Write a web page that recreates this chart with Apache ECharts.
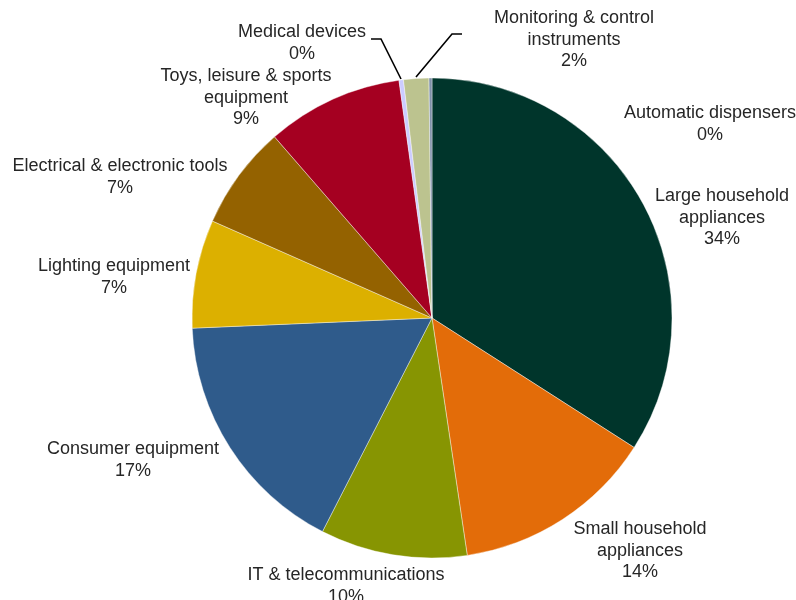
<!DOCTYPE html>
<html>
<head>
<meta charset="utf-8">
<script src="https://cdn.jsdelivr.net/npm/echarts@6/dist/echarts.min.js"></script>
<style>
  html, body { margin: 0; padding: 0; background: #fff; }
  #chart { width: 796px; height: 600px; }
</style>
</head>
<body>
<div id="chart"></div>
<script>
// WEEE categories and their share of the total (%), clockwise from 12 o'clock
var categories = [
  'Large household\nappliances',
  'Small household\nappliances',
  'IT & telecommunications',
  'Consumer equipment',
  'Lighting equipment',
  'Electrical & electronic tools',
  'Toys, leisure & sports\nequipment',
  'Medical devices',
  'Monitoring & control\ninstruments',
  'Automatic dispensers'
];
var shares = [34.1, 13.6, 9.9, 16.8, 7.3, 7.0, 9.2, 0.3, 1.7, 0.2];
var colors = ['#00352b', '#e36c09', '#879502', '#2f5b8b', '#dcb000',
              '#946200', '#a50021', '#ccccff', '#bcc38f', '#7f90a8'];

// Label anchor points (label centre) and optional leader lines
var labelSpots = [
  { x: 722, y: 218 },
  { x: 640, y: 551 },
  { x: 346, y: 586 },
  { x: 133, y: 460 },
  { x: 114, y: 277 },
  { x: 120, y: 177 },
  { x: 246, y: 98 },
  { x: 302, y: 43, line: [[401, 79], [381, 39], [371, 39]] },
  { x: 574, y: 40, line: [[416, 77], [452, 34], [462, 34]] },
  { x: 710, y: 124 }
];

var chart = echarts.init(document.getElementById('chart'), null, { renderer: 'canvas' });

var data = categories.map(function (name, i) {
  return { name: name, value: shares[i], itemStyle: { color: colors[i] } };
});

chart.setOption({
  animation: false,
  backgroundColor: '#ffffff',
  series: [{
    type: 'pie',
    center: [432, 318],
    radius: [0, 240],
    startAngle: 90,
    clockwise: true,
    data: data,
    itemStyle: { borderColor: '#ffffff', borderWidth: 0.4 },
    label: {
      show: true,
      position: 'outside',
      alignTo: 'none',
      overflow: 'none',
      formatter: function (p) { return p.name + '\n' + Math.round(p.percent) + '%'; },
      fontFamily: 'Liberation Sans, Arial, sans-serif',
      fontSize: 18,
      lineHeight: 21.5,
      color: '#262626',
      align: 'center'
    },
    labelLine: { show: true, lineStyle: { color: '#000', width: 1.6 } },
    labelLayout: function (params) {
      var s = labelSpots[params.dataIndex];
      var out = { x: s.x, y: s.y, align: 'center', verticalAlign: 'middle', hideOverlap: false, moveOverlap: false };
      out.labelLinePoints = s.line ? s.line : [[s.x, s.y], [s.x, s.y], [s.x, s.y]];
      return out;
    }
  }]
});
</script>
</body>
</html>
